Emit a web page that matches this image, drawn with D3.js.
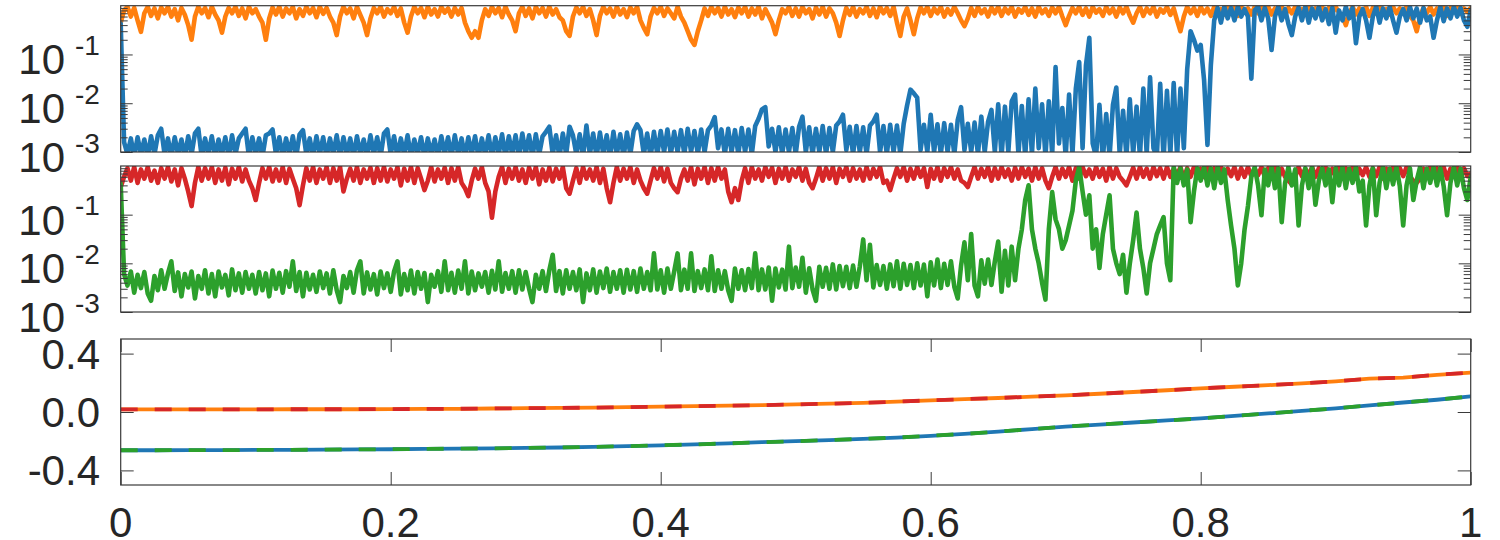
<!DOCTYPE html>
<html>
<head>
<meta charset="utf-8">
<script src="https://cdn.jsdelivr.net/npm/d3@7"></script>
<style>
  body { margin: 0; background: #fff; }
  svg text { font-family: "Liberation Sans", Arial, Helvetica, sans-serif; fill: #262626; }
</style>
</head>
<body>
<svg id="chart" width="1500" height="540"></svg>
<script>
/*
 * Three stacked panels: two log panels with noisy traces, one linear panel
 */

// tick values and labels
var xTicks = [0, 0.2, 0.4, 0.6, 0.8, 1];
var xTickLabels = ["0", "0.2", "0.4", "0.6", "0.8", "1"];
var logTicks = [1e-3, 1e-2, 1e-1];
var logTickExps = ["-3", "-2", "-1"];
var linTicks = [-0.4, 0, 0.4];
var linTickLabels = ["-0.4", "0.0", "0.4"];

// panel 1 (401 samples over [0,1], 20 per row)
var orange = [
  .45,.8,.95,.6,.9,.5,.29,.7,.95,.62,.88,.55,.92,.7,.95,.6,.85,.5,.9,.65,
  .4,.2,.6,.95,.7,.9,.58,.95,.66,.5,.28,.6,.9,.7,.95,.62,.88,.55,.95,.7,
  .85,.6,.45,.2,.55,.92,.66,.95,.6,.88,.7,.95,.55,.85,.62,.95,.7,.9,.58,.95,
  .68,.9,.6,.45,.25,.6,.95,.7,.88,.55,.95,.65,.45,.25,.55,.9,.7,.95,.6,.85,
  .7,.95,.62,.88,.45,.28,.6,.95,.7,.9,.58,.95,.66,.85,.6,.95,.72,.88,.6,.9,
  .66,.9,.45,.3,.22,.3,.22,.5,.85,.62,.95,.7,.9,.58,.95,.66,.5,.3,.7,.95,
  .62,.88,.55,.95,.7,.9,.6,.95,.66,.85,.58,.5,.3,.24,.6,.92,.7,.95,.62,.85,
  .5,.25,.62,.95,.7,.88,.6,.95,.66,.85,.58,.92,.7,.95,.5,.35,.26,.6,.9,.7,
  .95,.62,.88,.7,.55,.95,.6,.45,.3,.2,.157,.3,.5,.88,.62,.95,.7,.9,.6,.95,
  .66,.85,.58,.92,.7,.95,.6,.88,.66,.95,.55,.85,.62,.45,.26,.5,.85,.7,.95,.62,
  .88,.6,.95,.7,.85,.55,.92,.66,.95,.6,.88,.7,.45,.24,.5,.9,.65,.95,.6,.85,
  .7,.95,.62,.88,.58,.95,.7,.9,.62,.95,.45,.24,.6,.88,.5,.26,.55,.92,.7,.95,
  .62,.88,.7,.95,.6,.85,.66,.95,.7,.5,.38,.55,.9,.62,.95,.7,.85,.6,.92,.7,
  .95,.62,.88,.7,.95,.6,.85,.72,.95,.65,.88,.6,.95,.7,.85,.62,.92,.7,.95,.6,
  .4,.62,.9,.7,.95,.65,.88,.6,.95,.72,.85,.62,.95,.7,.88,.6,.92,.7,.95,.62,
  .45,.7,.95,.62,.88,.7,.95,.6,.85,.72,.95,.65,.88,.5,.3,.6,.95,.7,.9,.62,
  .95,.7,.88,.62,.95,.72,.85,.66,.95,.7,.9,.62,.95,.75,.88,.66,.95,.7,.9,.72,
  .95,.66,.88,.75,.95,.62,.9,.7,.95,.72,.85,.66,.95,.7,.88,.75,.95,.62,.9,.7,
  .95,.72,.6,.4,.7,.95,.66,.88,.75,.95,.62,.9,.7,.95,.72,.85,.66,.95,.7,.88,
  .75,.95,.62,.5,.3,.6,.9,.7,.95,.66,.88,.72,.95,.62,.9,.75,.95,.68,.88,.75,
  .9
];
var blue = [
  .43,.0016,.0009,.0019,.0008,.002,.0009,.0018,.0008,.0021,.0009,.0022,.003,.0009,.0019,.0008,.002,.0009,.0018,.0008,
  .0021,.0009,.0024,.003,.0008,.0019,.0009,.0021,.0008,.0018,.0009,.002,.0008,.0022,.0009,.0019,.0024,.003,.0008,.002,
  .0009,.0019,.0008,.0022,.0024,.0029,.0009,.002,.0008,.0019,.0009,.0021,.0008,.0023,.0028,.0009,.0019,.0008,.0021,.0009,
  .002,.0008,.0019,.0009,.0022,.0008,.002,.0009,.0019,.0008,.0021,.0009,.0018,.0008,.0022,.0009,.002,.0008,.0024,.0029,
  .0009,.0021,.0008,.0019,.0009,.0022,.0008,.0018,.0009,.002,.0008,.0019,.0009,.0018,.0008,.0021,.0009,.002,.0008,.0022,
  .0009,.0019,.0008,.002,.0009,.0021,.0008,.0019,.0009,.0022,.0008,.002,.0009,.0023,.0008,.0021,.0009,.0022,.0008,.0024,
  .0009,.0022,.0008,.0023,.0009,.0021,.0026,.0033,.0009,.0022,.0008,.0024,.0009,.0033,.0022,.0009,.0023,.0008,.0035,.0009,
  .0024,.0008,.0025,.0009,.0022,.0008,.0026,.0009,.0023,.0008,.0025,.0009,.0027,.0037,.0028,.0009,.0024,.0008,.0026,.0009,
  .0027,.001,.0029,.0009,.0026,.001,.0028,.0009,.003,.001,.0027,.0009,.0029,.001,.0028,.0035,.0052,.0012,.0029,.0009,
  .003,.001,.0028,.0009,.0031,.001,.0029,.0009,.0034,.0048,.0075,.0083,.0013,.003,.001,.0032,.0009,.0029,.001,.0031,
  .0009,.0033,.0053,.001,.0032,.0009,.003,.001,.0034,.0009,.0031,.001,.0035,.0042,.0058,.0011,.0033,.0009,.0034,.001,
  .0032,.0009,.0035,.0042,.0058,.001,.0034,.0009,.0036,.001,.0035,.0009,.0038,.009,.019,.016,.013,.0011,.0036,.001,
  .0058,.001,.0037,.0009,.0039,.001,.0036,.0009,.0045,.0083,.0011,.0038,.001,.004,.0009,.0053,.001,.0042,.0073,.001,
  .0095,.0008,.0085,.001,.011,.015,.0009,.0088,.0008,.012,.0009,.02,.0012,.0095,.0008,.011,.0009,.055,.0015,.008,
  .0008,.015,.0009,.02,.07,.0012,.06,.22,.0015,.0008,.0093,.0007,.006,.0008,.0093,.021,.0009,.007,.0008,.012,
  .0009,.0085,.0008,.02,.0009,.034,.0012,.0008,.025,.0007,.018,.0009,.026,.0008,.02,.0012,.05,.3,.2,.12,
  .157,.03,.0014,.06,.5,.9,.45,.95,.55,.9,.5,.95,.6,.85,.6,.032,.8,.95,.5,.9,
  .55,.124,.6,.95,.5,.85,.42,.25,.6,.92,.5,.95,.45,.88,.55,.95,.5,.85,.42,.92,
  .28,.8,.5,.95,.55,.9,.17,.6,.85,.5,.22,.6,.95,.45,.88,.55,.95,.5,.28,.6,
  .85,.5,.95,.55,.88,.45,.9,.5,.6,.22,.5,.95,.48,.88,.55,.95,.6,.9,.5,.37,
  .8
];

// panel 2
var red = [
  .37,.6,.9,.5,.95,.45,.85,.55,.95,.5,.8,.45,.9,.55,.95,.48,.85,.4,.9,.55,
  .3,.15,.45,.95,.5,.9,.55,.95,.45,.85,.5,.92,.42,.88,.55,.95,.48,.85,.5,.35,
  .2,.45,.9,.55,.95,.48,.85,.5,.95,.45,.88,.55,.35,.157,.4,.9,.5,.95,.45,.85,
  .55,.95,.45,.9,.5,.95,.3,.55,.88,.5,.95,.45,.85,.55,.92,.45,.9,.5,.95,.48,
  .85,.55,.95,.4,.88,.5,.95,.45,.9,.55,.32,.5,.95,.48,.85,.55,.92,.45,.9,.5,
  .95,.45,.35,.24,.5,.88,.55,.95,.45,.3,.087,.3,.6,.95,.45,.88,.55,.95,.5,.85,
  .45,.92,.55,.95,.42,.85,.5,.92,.48,.88,.55,.95,.35,.27,.5,.9,.45,.95,.55,.85,
  .5,.95,.45,.88,.35,.18,.45,.95,.5,.88,.55,.95,.45,.85,.5,.35,.27,.5,.9,.55,
  .95,.48,.88,.45,.35,.29,.55,.85,.5,.95,.42,.88,.55,.95,.45,.9,.5,.95,.55,.85,
  .3,.18,.35,.2,.5,.9,.45,.95,.55,.85,.5,.95,.6,.92,.45,.88,.55,.95,.5,.85,
  .6,.95,.5,.88,.45,.35,.55,.95,.5,.9,.55,.95,.45,.88,.6,.95,.5,.9,.55,.85,
  .5,.95,.55,.88,.6,.95,.45,.5,.32,.55,.9,.6,.95,.5,.88,.55,.95,.6,.9,.37,
  .88,.55,.95,.5,.9,.6,.95,.55,.85,.5,.45,.37,.6,.95,.55,.88,.6,.95,.5,.9,
  .55,.95,.6,.85,.5,.92,.55,.95,.6,.88,.5,.95,.55,.9,.5,.35,.6,.95,.55,.88,
  .6,.95,.5,.9,.55,.95,.62,.85,.55,.95,.6,.88,.5,.95,.55,.9,.6,.5,.4,.6,
  .92,.55,.95,.6,.88,.55,.95,.62,.9,.55,.95,.6,.88,.65,.95,.55,.9,.6,.95,.62,
  .88,.6,.95,.55,.9,.65,.95,.6,.88,.62,.95,.55,.9,.6,.95,.62,.88,.65,.95,.6,
  .9,.62,.95,.55,.88,.6,.5,.42,.6,.95,.62,.88,.65,.95,.6,.9,.62,.95,.55,.88,
  .65,.95,.6,.9,.62,.95,.55,.88,.65,.95,.6,.9,.62,.95,.55,.88,.65,.95,.6,.9,
  .62,.95,.6,.5,.45,.55,.88,.65,.95,.6,.9,.62,.95,.55,.88,.65,.95,.6,.9,.62,
  .7
];
var green = [
  .43,.006,.0035,.0068,.0025,.0058,.0031,.0066,.0024,.0017,.0055,.0028,.0072,.003,.0062,.011,.0027,.0065,.0021,.006,
  .0032,.0068,.0019,.0055,.003,.0072,.0024,.006,.0021,.0068,.0032,.0058,.0022,.0075,.0028,.0062,.0025,.0066,.003,.0058,
  .0024,.0066,.0028,.0062,.0021,.0071,.003,.0064,.0025,.0069,.0033,.011,.0027,.0066,.0021,.0064,.0029,.0058,.0026,.0068,
  .0031,.0062,.0024,.0072,.0028,.0016,.0055,.0031,.0066,.0025,.0072,.011,.0024,.0065,.0029,.006,.0023,.0068,.0031,.0062,
  .0026,.0068,.011,.0023,.006,.0028,.0071,.0024,.0066,.003,.0063,.0016,.0058,.0033,.0069,.0026,.011,.0028,.0064,.0025,
  .0071,.003,.011,.0024,.0068,.0028,.0062,.0033,.0066,.0025,.007,.0029,.011,.0026,.0063,.003,.0069,.0025,.0072,.0029,
  .0066,.003,.0016,.0058,.003,.0069,.0027,.0072,.015,.0027,.0069,.0024,.0072,.003,.0066,.0028,.0075,.0016,.0062,.0028,
  .0075,.0025,.0068,.0031,.0078,.0026,.0066,.003,.0072,.0025,.0074,.0029,.0069,.0026,.0078,.003,.0066,.0028,.016,.0029,
  .0072,.0025,.0078,.003,.0068,.016,.0028,.0074,.003,.016,.0027,.0069,.0031,.0075,.0028,.014,.0027,.0072,.003,.0069,
  .0028,.0017,.0078,.003,.0072,.0028,.0076,.0031,.016,.0028,.0075,.0029,.0082,.0017,.0078,.0032,.0074,.0029,.022,.0031,
  .0082,.0033,.013,.0025,.0079,.0029,.0017,.0085,.0033,.0081,.003,.0095,.0029,.0088,.0034,.0085,.0031,.009,.0033,.0087,
  .031,.0045,.024,.0032,.0092,.0036,.0088,.003,.0095,.0034,.011,.003,.0098,.0036,.0092,.0031,.01,.0035,.0094,.0021,
  .0105,.0035,.012,.0031,.0098,.0036,.011,.0033,.0019,.009,.027,.0045,.04,.0035,.0021,.0115,.0038,.012,.0036,.011,
  .028,.0026,.018,.0035,.022,.0045,.02,.05,.2,.4,.05,.02,.01,.004,.0018,.05,.29,.08,.05,.02,
  .03,.06,.12,.5,.95,.3,.1,.25,.02,.05,.008,.04,.1,.25,.02,.01,.006,.015,.0025,.01,
  .03,.11,.02,.008,.0024,.01,.02,.04,.06,.089,.01,.0045,.95,.45,.9,.4,.85,.07,.3,.9,
  .5,.95,.4,.9,.35,.95,.45,.85,.2,.06,.02,.0035,.01,.05,.15,.6,.95,.4,.097,.85,
  .4,.95,.35,.9,.07,.45,.95,.4,.85,.06,.4,.9,.35,.95,.16,.5,.9,.4,.85,.18,
  .9,.4,.95,.35,.88,.45,.95,.3,.5,.06,.4,.9,.097,.45,.95,.35,.88,.42,.95,.38,
  .06,.4,.9,.2,.5,.95,.35,.88,.45,.95,.4,.9,.38,.097,.45,.95,.4,.88,.35,.2,
  .6
];

// panel 3 (41 samples); solid and dashed traces lie on top of each other
var upper = [
  .018,.018,.018,.018,.018,.019,.019,.019,.02,.021,
  .022,.024,.026,.028,.03,.033,.037,.04,.043,.047,
  .052,.057,.063,.071,.08,.088,.096,.105,.114,.125,
  .137,.149,.162,.173,.184,.196,.21,.228,.236,.255,
  .27
];
var lower = [
  -.262,-.262,-.261,-.261,-.26,-.259,-.258,-.256,-.255,-.253,
  -.251,-.249,-.246,-.243,-.239,-.234,-.228,-.222,-.215,-.207,
  -.2,-.192,-.184,-.175,-.163,-.15,-.134,-.117,-.1,-.086,
  -.072,-.058,-.044,-.027,-.01,.008,.025,.045,.065,.084,
  .107
];

var COLORS = {
  blue: "#1f77b4",
  orange: "#ff7f0e",
  green: "#2ca02c",
  red: "#d62728",
  axis: "#3a3a3a"
};

var svg = d3.select("#chart");
var left = 120.7, right = 1470.7;
var panels = [
  {top: 5.7, bottom: 152},
  {top: 166, bottom: 312},
  {top: 339, bottom: 485}
];

var x = d3.scaleLinear().domain([0, 1]).range([left, right]);

function sampleX(arr){
  return function(d, i){ return x(i / (arr.length - 1)); };
}

// clip each panel to its box
var defs = svg.append("defs");
panels.forEach(function(p, k){
  defs.append("clipPath").attr("id", "clip" + k)
    .append("rect").attr("x", left).attr("y", p.top)
    .attr("width", right - left).attr("height", p.bottom - p.top);
});

function drawSeries(k, arr, y, color, width, dash){
  var line = d3.line().x(sampleX(arr)).y(function(d){ return y(d); });
  var path = svg.append("path").datum(arr)
    .attr("clip-path", "url(#clip" + k + ")")
    .attr("d", line)
    .attr("fill", "none")
    .attr("stroke", color)
    .attr("stroke-width", width)
    .attr("stroke-linejoin", "round")
    .attr("stroke-linecap", dash ? "butt" : "round");
  if (dash) path.attr("stroke-dasharray", dash);
}

function drawTicks(axisFn, scale, values, size, tx, ty){
  var g = svg.append("g").attr("transform", "translate(" + tx + "," + ty + ")")
    .call(axisFn(scale).tickValues(values).tickSize(-size).tickFormat(""));
  g.select(".domain").remove();
  g.selectAll("line").attr("stroke", COLORS.axis).attr("stroke-width", 1);
}

function drawBox(p){
  svg.append("rect").attr("x", left).attr("y", p.top)
    .attr("width", right - left).attr("height", p.bottom - p.top)
    .attr("fill", "none").attr("stroke", COLORS.axis).attr("stroke-width", 1.2);
}

// minor ticks 2..9 per decade
var minorTicks = [];
logTicks.forEach(function(t){
  for (var m = 2; m <= 9; m++) minorTicks.push(t * m);
});

/*
 * log panels
 */
var logSeries = [
  [{data: orange, color: COLORS.orange}, {data: blue, color: COLORS.blue}],
  [{data: red, color: COLORS.red}, {data: green, color: COLORS.green}]
];

logSeries.forEach(function(series, k){
  var p = panels[k];
  var y = d3.scaleLog().domain([1e-3, 1]).range([p.bottom, p.top]);

  series.forEach(function(s){
    drawSeries(k, s.data, y, s.color, 4.6);
  });

  drawTicks(d3.axisLeft, y, logTicks, 12, left, 0);
  drawTicks(d3.axisRight, y, logTicks, 12, right, 0);
  drawTicks(d3.axisLeft, y, minorTicks, 7, left, 0);
  drawTicks(d3.axisRight, y, minorTicks, 7, right, 0);
  drawBox(p);

  logTicks.forEach(function(t, i){
    svg.append("text").attr("x", 65).attr("y", y(t) + 20)
      .attr("text-anchor", "end").attr("font-size", 42).text("10");
    svg.append("text").attr("x", 75).attr("y", y(t) + 0.5)
      .attr("text-anchor", "start").attr("font-size", 28).text(logTickExps[i]);
  });
});

/*
 * linear panel
 */
var p3 = panels[2];
var yLin = d3.scaleLinear().domain([-0.5, 0.5]).range([p3.bottom, p3.top]);

drawSeries(2, upper, yLin, COLORS.orange, 3.8);
drawSeries(2, upper, yLin, COLORS.red, 3.8, "17,17");
drawSeries(2, lower, yLin, COLORS.blue, 3.8);
drawSeries(2, lower, yLin, COLORS.green, 3.8, "17,17");

drawTicks(d3.axisLeft, yLin, linTicks, 13, left, 0);
drawTicks(d3.axisRight, yLin, linTicks, 13, right, 0);
drawTicks(d3.axisBottom, x, xTicks, 13, 0, p3.bottom);
drawTicks(d3.axisTop, x, xTicks, 13, 0, p3.top);
drawBox(p3);

linTicks.forEach(function(t, i){
  svg.append("text").attr("x", 100).attr("y", yLin(t) + 15)
    .attr("text-anchor", "end").attr("font-size", 42).text(linTickLabels[i]);
});

xTicks.forEach(function(t, i){
  svg.append("text").attr("x", x(t)).attr("y", 537)
    .attr("text-anchor", "middle").attr("font-size", 42).text(xTickLabels[i]);
});
</script>
</body>
</html>
